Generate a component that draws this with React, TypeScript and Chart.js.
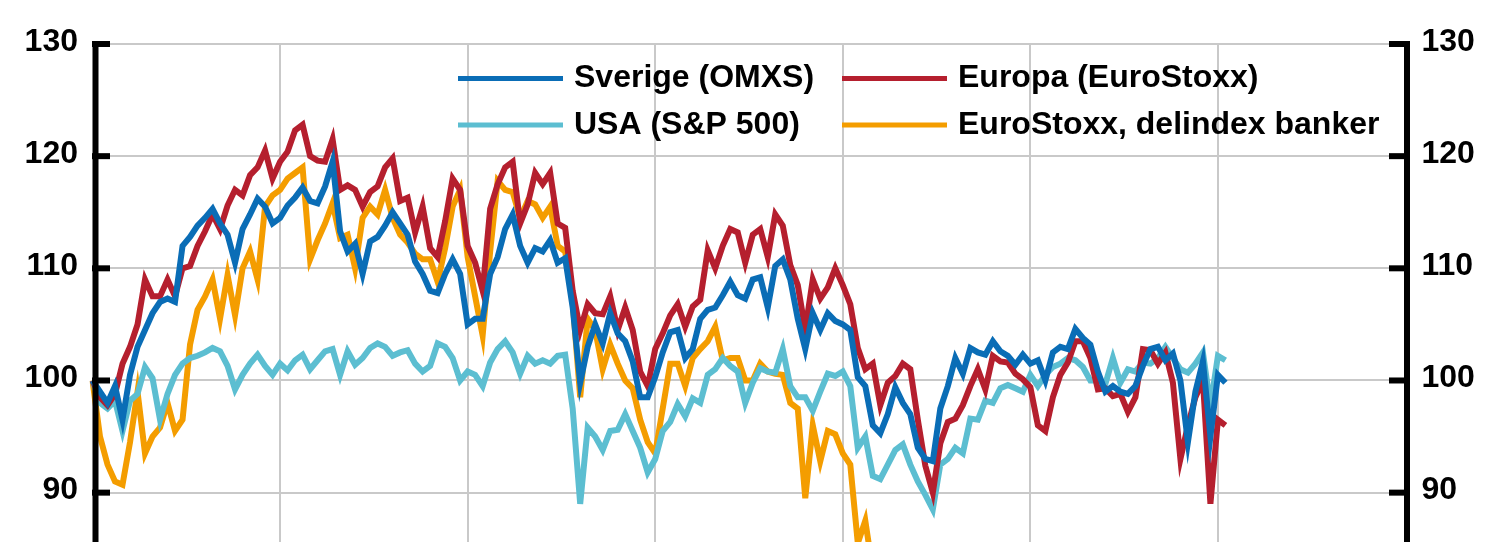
import React, { useEffect, useRef } from 'react';
import { Chart, registerables } from 'chart.js';

Chart.register(...registerables);

// ---- Data (index values) ----
const PERIODS = 7;
const STEPS_PER_PERIOD = 25;
const categories: string[] = Array.from({ length: PERIODS * STEPS_PER_PERIOD + 1 }, (_, i) => String(i));

const seriesLabels = ['Sverige (OMXS)', 'Europa (EuroStoxx)', 'USA (S&P 500)', 'EuroStoxx, delindex banker'];
const yTicks = [80, 90, 100, 110, 120, 130];

const sverige = [
  100, 99, 98, 99.5, 96.5, 100.5, 103, 104.5, 106, 107,
  107.3, 107, 112, 112.8, 113.8, 114.5, 115.3, 114, 113, 110.5,
  113.5, 114.8, 116.2, 115.5, 114, 114.5, 115.6, 116.3, 117.2, 116,
  115.8, 117.3, 119.5, 113.3, 111.5, 112.2, 109.5, 112.4, 112.8, 113.8,
  115, 114, 113, 110.6, 109.5, 108, 107.8, 109.5, 110.8, 109.5,
  105, 105.5, 105.5, 109.5, 111, 113.5, 114.8, 112, 110.5, 111.8,
  111.5, 112.5, 110.5, 110.9, 106.5, 99.8, 103, 105, 103.3, 106,
  104.2, 103.5, 101.7, 98.5, 98.5, 100.3, 102.5, 104.3, 104.5, 102,
  102.8, 105.5, 106.3, 106.5, 107.6, 108.8, 107.6, 107.3, 109, 109.2,
  106.5, 110.2, 110.8, 109, 105.5, 102.8, 106, 104.5, 106, 105.3,
  105, 104.5, 100.3, 99.5, 96, 95.3, 97, 99.4, 98, 97,
  94, 93, 92.8, 97.5, 99.5, 102, 100.6, 102.9, 102.5, 102.3,
  103.5, 102.6, 102.2, 101.4, 102.3, 101.5, 101.8, 100, 102.5, 103,
  102.8, 104.6, 103.8, 103.2, 100.8, 99, 99.5, 99, 98.8, 99.5,
  101.3, 102.8, 103, 101.8, 102.4, 100, 94.5, 99, 101.7, 95,
  100.5, 99.8,
];

const europa = [
  100, 98.5, 97.8, 98.8, 101.5, 103, 105, 109, 107.5, 107.5,
  109, 107.5, 110, 110.2, 112, 113.3, 114.8, 113.5, 115.6, 117,
  116.5, 118.3, 119, 120.5, 118, 119.5, 120.4, 122.3, 122.8, 120,
  119.6, 119.5, 121.5, 117, 117.4, 117, 115.5, 116.8, 117.3, 119,
  119.8, 116, 116.3, 113.2, 115.5, 111.8, 111, 114.2, 118, 117,
  112, 110.5, 108, 115.3, 117.5, 119, 119.5, 114, 115.7, 118.5,
  117.5, 118.5, 114, 113.6, 108, 104.5, 106.8, 106, 105.9, 107.5,
  104.5, 106.5, 104.5, 100.8, 99.5, 102.8, 104.2, 105.8, 106.8, 104.8,
  106.6, 107.2, 111.6, 110, 112, 113.5, 113.2, 110.5, 113, 113.5,
  111, 114.8, 113.8, 110.3, 108.5, 104.5, 109, 107.3, 108.3, 110,
  108.5, 106.8, 102.9, 101, 101.5, 97.8, 99.8, 100.4, 101.5, 101,
  96.5, 92.4, 90, 94.4, 96.3, 96.6, 97.8, 99.5, 101, 99.2,
  102.2, 101.7, 101.6, 100.6, 100.1, 99.4, 96, 95.5, 98.5, 100.5,
  101.6, 103.5, 103.5, 102, 99.2, 99.3, 98.6, 98.8, 97.2, 98.5,
  102.8, 102.7, 101.5, 102.5, 99.8, 93, 96, 98.5, 100, 89,
  96.5, 96,
];

const usa = [
  100, 98, 97.5, 98.2, 95.5, 98.2, 98.8, 101.2, 100.2, 96.5,
  98.8, 100.5, 101.5, 102, 102.2, 102.5, 102.9, 102.6, 101.3, 99.2,
  100.5, 101.5, 102.3, 101.3, 100.5, 101.5, 100.9, 101.8, 102.3, 101,
  101.8, 102.6, 102.8, 100.5, 102.6, 101.4, 102, 102.9, 103.3, 103,
  102.2, 102.5, 102.7, 101.5, 100.8, 101.3, 103.3, 103, 102, 100,
  100.8, 100.5, 99.5, 101.6, 102.8, 103.5, 102.5, 100.6, 102.2, 101.5,
  101.8, 101.5, 102.2, 102.3, 97.5, 89, 95.8, 95, 93.8, 95.5,
  95.6, 97, 95.5, 94, 91.8, 93, 95.5, 96.3, 97.9, 96.8,
  98.4, 98, 100.5, 101, 102, 101.3, 100.8, 98, 99.8, 101.1,
  100.8, 100.7, 102.8, 99.5, 98.5, 98.5, 97.3, 99, 100.6, 100.4,
  100.8, 99.5, 94, 95, 91.5, 91.2, 92.5, 93.8, 94.3, 92.5,
  91, 89.8, 88.5, 92.5, 93, 94, 93.5, 96.6, 96.5, 98.2,
  98, 99.3, 99.6, 99.3, 99, 100.5, 99.5, 100.5, 101.2, 101.5,
  102, 101.8, 101.2, 100, 100, 99.7, 102, 99.8, 101, 100.8,
  101.6, 101.5, 102, 103, 102, 101, 100.7, 101.5, 102.5, 97.7,
  102.2, 101.8,
];

const exBanks = [
  100, 95, 92.5, 91, 90.7, 94.5, 99, 93.5, 95, 95.8,
  98, 95.5, 96.5, 103.2, 106.3, 107.5, 109, 105.5, 109.4, 105.8,
  110, 111.5, 109, 115.5, 116.5, 117, 118, 118.5, 119, 110.8,
  112.5, 114, 115.8, 112.7, 113, 110, 114.5, 115.5, 114.8, 117,
  114.5, 113, 112.3, 111.3, 110.8, 110.8, 108.8, 111.8, 115.5, 117,
  111, 107.5, 104, 111.5, 117.8, 117, 116.8, 114.5, 116, 115.7,
  114.5, 115.5, 112, 111.5, 107, 98.5, 105.5, 104.5, 101, 103.2,
  101.5, 100, 99.3, 96.5, 94.5, 93.5, 97.5, 101.5, 101.5, 99.5,
  102, 102.8, 103.5, 104.8, 101.8, 102, 102, 100, 100, 101.5,
  100.8, 100.6, 100.5, 98, 97.5, 89.5, 96, 92.8, 95.5, 95.2,
  93.5, 92.5, 85.5, 87.5, 83,
];

const seriesValues = [sverige, europa, usa, exBanks];
const seriesColors = ['#0A6DB6', '#B51F2E', '#5CBED1', '#F49D00'];

const FONT = '"Liberation Sans", Arial, sans-serif';
const GRID = '#c9c9c9';

const axesAndLegendPlugin = {
  id: 'axesAndLegend',
  afterDraw(chart: any) {
    const { ctx, chartArea, scales } = chart;
    const yL = scales.y;
    ctx.save();
    ctx.strokeStyle = '#000';
    ctx.lineWidth = 6;
    ctx.lineCap = 'butt';
    const top = yL.getPixelForValue(130);
    const lx = chartArea.left + 3;
    ctx.beginPath();
    ctx.moveTo(lx, top - 3);
    ctx.lineTo(lx, chartArea.bottom);
    ctx.stroke();
    const rx = chartArea.right + 1.5;
    ctx.beginPath();
    ctx.moveTo(rx, top - 3);
    ctx.lineTo(rx, chartArea.bottom);
    ctx.stroke();
    yTicks.forEach((v) => {
      const y = yL.getPixelForValue(v);
      ctx.beginPath();
      ctx.moveTo(chartArea.left - 0.5, y);
      ctx.lineTo(chartArea.left + 17.5, y);
      ctx.stroke();
      ctx.beginPath();
      ctx.moveTo(chartArea.right - 16.5, y);
      ctx.lineTo(chartArea.right + 4.5, y);
      ctx.stroke();
    });

    const cols = [458, 842];
    const rows = [78.5, 125];
    const baselines = [87, 133.5];
    ctx.font = `bold 32px ${FONT}`;
    ctx.textAlign = 'left';
    ctx.textBaseline = 'alphabetic';
    chart.data.datasets.forEach((ds: any, i: number) => {
      const c = i % 2;
      const r = Math.floor(i / 2);
      const x0 = cols[c];
      ctx.strokeStyle = ds.borderColor;
      ctx.lineWidth = 5;
      ctx.beginPath();
      ctx.moveTo(x0, rows[r]);
      ctx.lineTo(x0 + 105, rows[r]);
      ctx.stroke();
      ctx.fillStyle = '#000';
      ctx.fillText(ds.label, x0 + 116, baselines[r]);
    });
    ctx.restore();
  },
};

export default function App() {
  const ref = useRef<HTMLCanvasElement | null>(null);

  useEffect(() => {
    if (!ref.current) return;
    const chart = new Chart(ref.current, {
      type: 'line',
      data: {
        labels: categories,
        datasets: seriesLabels.map((label, i) => ({
          label,
          data: seriesValues[i],
          borderColor: seriesColors[i],
          backgroundColor: seriesColors[i],
          borderWidth: 6,
          pointRadius: 0,
          tension: 0,
          fill: false,
          borderJoinStyle: 'miter' as const,
          yAxisID: 'y',
        })),
      },
      options: {
        responsive: false,
        animation: false,
        events: [],
        layout: { padding: { top: 44, left: 0, right: 0, bottom: 0 } },
        plugins: {
          legend: { display: false },
          tooltip: { enabled: false },
        },
        scales: {
          x: {
            type: 'category',
            offset: false,
            ticks: { display: false, autoSkip: false },
            border: { display: false },
            grid: {
              drawTicks: false,
              lineWidth: 2,
              color: (c: any) =>
                c.index % STEPS_PER_PERIOD === 0 && c.index !== 0 && c.index !== categories.length - 1
                  ? GRID
                  : 'rgba(0,0,0,0)',
            },
            afterFit: (s: any) => {
              s.height = 33.5;
            },
          },
          y: {
            type: 'linear',
            position: 'left',
            min: 80,
            max: 130,
            afterBuildTicks: (s: any) => {
              s.ticks = yTicks.map((v) => ({ value: v }));
            },
            ticks: {
              color: '#000',
              font: { family: FONT, size: 32, weight: 'bold' },
              padding: 14.5,
              labelOffset: -2,
            },
            border: { display: false },
            grid: { drawTicks: false, color: GRID, lineWidth: 2 },
            afterFit: (s: any) => {
              s.width = 92.5;
            },
          },
          y2: {
            type: 'linear',
            position: 'right',
            min: 80,
            max: 130,
            afterBuildTicks: (s: any) => {
              s.ticks = yTicks.map((v) => ({ value: v }));
            },
            ticks: {
              color: '#000',
              font: { family: FONT, size: 32, weight: 'bold' },
              padding: 16,
              labelOffset: -2,
            },
            border: { display: false },
            grid: { display: false, drawTicks: false },
            afterFit: (s: any) => {
              s.width = 94.5;
            },
          },
        },
      },
      plugins: [axesAndLegendPlugin],
    });
    return () => chart.destroy();
  }, []);

  return (
    <div
      style={{
        position: 'absolute',
        left: 0,
        top: 0,
        width: 1500,
        height: 542,
        overflow: 'hidden',
        background: '#fff',
      }}
    >
      <canvas ref={ref} width={1500} height={640} style={{ display: 'block' }} />
    </div>
  );
}
